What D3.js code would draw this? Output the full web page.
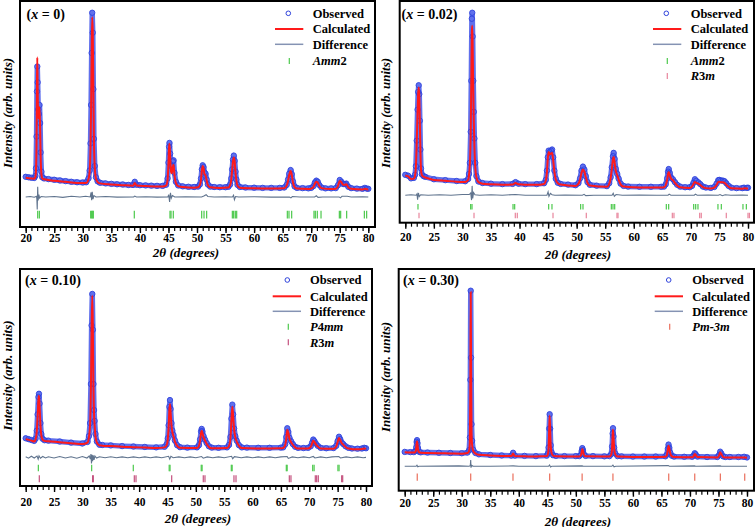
<!DOCTYPE html>
<html><head><meta charset="utf-8">
<script src="https://cdn.jsdelivr.net/npm/d3@7"></script>
<style>
body{margin:0;background:#fff}
svg{display:block}
text{font-family:"Liberation Serif","Times New Roman",serif;font-weight:bold;fill:#000}
</style>
</head><body>
<svg id="c" width="756" height="527"></svg>
<script>
// ---------------- DATA (2θ in degrees, intensity in arb. units) ----------------
const xTicksMajor = [20,25,30,35,40,45,50,55,60,65,70,75,80];
const xTicksMinor = d3.range(20,81,1);

const titles = ["0","0.02","0.10","0.30"];

const obs1 = [[20.0,22.2],[20.5,22.0],[21.0,21.8],[21.5,21.7],[21.7,22.6],[21.8,26],[21.9,40],[21.97,60],[22.03,71],[22.1,64],[22.2,52],[22.3,50],[22.42,54],[22.52,46],[22.62,33],[22.75,24.5],[22.9,22],[23.2,21.5],[24,21.2],[25,20.9],[26,20.6],[27,20.3],[28,20.0],[29,19.8],[30,19.7],[30.6,19.8],[31.0,21.5],[31.2,25],[31.35,37],[31.45,54],[31.55,77],[31.65,94.8],[31.75,86],[31.85,61],[31.95,39],[32.1,27],[32.3,22],[32.6,20.2],[33,19.6],[34,19.3],[35,19.1],[36,18.9],[37,18.8],[38,18.6],[38.8,18.6],[39.1,20.0],[39.4,18.7],[40,18.5],[41,18.4],[42,18.3],[43,18.2],[44,18.2],[44.6,18.7],[44.85,21.5],[45.0,28.5],[45.1,35.5],[45.18,37.2],[45.3,32.5],[45.45,27],[45.6,27],[45.75,29],[45.9,29.5],[46.05,24],[46.3,20],[46.7,18.4],[47.5,18.0],[48.5,17.8],[49.5,17.7],[50.2,17.9],[50.5,18.8],[50.7,21.5],[50.85,25.5],[51.0,27.3],[51.15,26.5],[51.3,24.2],[51.5,23.6],[51.7,21],[51.9,18.8],[52.3,17.9],[53,17.7],[54,17.6],[55,17.6],[55.5,17.8],[55.8,18.8],[56.0,21.5],[56.15,25.5],[56.3,29.8],[56.45,31.6],[56.6,29.3],[56.75,24.5],[56.9,21],[57.1,18.6],[57.5,17.7],[58.5,17.5],[60,17.4],[61.5,17.3],[63,17.3],[64.5,17.3],[65.3,17.5],[65.7,18.6],[65.95,21],[66.15,23.6],[66.4,25.2],[66.6,23.4],[66.8,20.2],[67.1,17.9],[67.5,17.3],[68.5,17.2],[69.5,17.1],[70.0,17.3],[70.4,18.1],[70.65,19.7],[70.9,20.5],[71.15,20],[71.4,18.6],[71.8,17.5],[72.5,17.1],[73.5,17.1],[74.3,17.2],[74.7,18.5],[75.0,20.8],[75.3,20.0],[75.6,19.0],[75.9,19.0],[76.15,19.2],[76.5,17.8],[77,17.2],[78,17.0],[79,16.9],[79.4,17.3],[79.7,17.0],[80,16.9]];
const calc1 = [[20.0,21.8],[21.0,21.5],[21.5,21.4],[21.7,22.2],[21.8,25],[21.9,38],[21.97,62],[22.03,75],[22.1,60],[22.2,48],[22.3,50],[22.42,53],[22.52,44],[22.62,31],[22.75,23.5],[22.9,21.5],[23.2,21.1],[25,20.5],[27,20.0],[29,19.5],[30.6,19.5],[31.0,21.2],[31.2,24.5],[31.35,35],[31.45,52],[31.55,76],[31.65,92.8],[31.75,85],[31.85,61],[31.95,38],[32.1,26],[32.3,21.5],[32.6,19.9],[33,19.3],[35,18.8],[37,18.5],[38.8,18.3],[39.1,19.5],[39.4,18.4],[41,18.1],[43,17.9],[44,17.9],[44.6,18.4],[44.85,21],[45.0,28],[45.1,35],[45.18,36.8],[45.3,31],[45.45,24.5],[45.6,23.8],[45.75,26.5],[45.9,27.5],[46.05,23],[46.3,19.5],[46.7,18.1],[47.5,17.7],[49.5,17.4],[50.2,17.6],[50.5,18.5],[50.7,21],[50.85,25],[51.0,27],[51.15,26],[51.3,23.5],[51.5,22.8],[51.7,20.5],[51.9,18.5],[52.3,17.6],[54,17.3],[55.5,17.5],[55.8,18.5],[56.0,21],[56.15,25],[56.3,29],[56.45,30.7],[56.6,28.8],[56.75,24],[56.9,20.5],[57.1,18.3],[57.5,17.4],[60,17.1],[63,17.0],[65.3,17.2],[65.7,18.3],[65.95,20.5],[66.15,23],[66.4,24.8],[66.6,23],[66.8,19.8],[67.1,17.6],[67.5,17.0],[69.5,16.8],[70.0,17.0],[70.4,17.8],[70.65,19.3],[70.9,20.0],[71.15,19.6],[71.4,18.3],[71.8,17.2],[73.5,16.8],[74.3,16.9],[74.7,18.2],[75.0,20.4],[75.3,19.7],[75.6,18.7],[75.9,18.7],[76.15,18.9],[76.5,17.5],[77,16.9],[79,16.6],[79.4,16.9],[79.7,16.7],[80,16.6]];
const diff1 = [[20,0],[20.8,0.2],[21.5,-0.1],[21.9,0.3],[21.96,-1.2],[22.02,-5.6],[22.1,4.5],[22.18,-1.5],[22.3,1.0],[22.45,-0.5],[22.7,0.2],[23.5,0],[25,0.2],[26.5,-0.2],[28,0.3],[29.5,0],[30.5,0.3],[31.3,0],[31.45,2.0],[31.55,-1.4],[31.65,2.3],[31.78,-1.0],[31.95,0.6],[32.3,0],[34,0.2],[36,-0.1],[38.9,0],[39.1,0.4],[39.4,0],[41,0.1],[43,-0.1],[44.9,0],[45.05,1.0],[45.2,-2.2],[45.35,1.8],[45.5,-0.5],[45.7,0.6],[46.1,0],[48,0.1],[50.8,0],[51.2,0.4],[51.6,1.0],[51.9,0.2],[53,0],[55,0.1],[56.2,0],[56.4,0.8],[56.55,-1.2],[56.75,0.2],[57.3,0],[60,0.1],[63,-0.1],[66.2,0],[66.45,-0.4],[66.7,0.2],[68,0],[70.6,0],[70.9,0.5],[71.2,-0.2],[72,0],[74.9,0],[75.1,-0.4],[75.4,0.3],[76.3,0.3],[77,0],[79,0.1],[80,0]];
const amm2_1 = [22.10,22.39,31.38,31.55,31.73,31.84,39.02,45.27,45.45,45.85,50.82,51.23,51.69,56.19,56.42,56.71,56.95,65.82,66.11,66.58,70.49,70.72,71.07,71.72,74.93,75.16,76.21,79.31,79.71];

const obs2 = [[20.0,21.6],[20.5,21.2],[21.0,20.0],[21.5,20.2],[21.7,21.6],[21.85,25.5],[22.0,37],[22.15,51],[22.25,59],[22.35,62],[22.45,58],[22.55,46],[22.65,33],[22.75,24.5],[22.9,21.8],[23.2,21.0],[23.5,20.7],[25,19.6],[27,19.2],[29,18.8],[30.5,18.7],[31.0,19.7],[31.15,22],[31.3,27],[31.45,41],[31.55,64],[31.65,92],[31.72,94.7],[31.8,84],[31.9,64],[32.0,50],[32.1,38],[32.25,27],[32.45,21],[32.8,18.6],[33.5,17.9],[35,17.6],[37,17.4],[38.8,17.5],[39.3,18.3],[39.8,17.6],[41,17.4],[43,17.4],[44.3,17.8],[44.6,19.3],[44.8,23.5],[44.95,29.5],[45.1,32.5],[45.3,31.8],[45.5,32.5],[45.7,33],[45.9,29.5],[46.1,23.5],[46.35,19.8],[46.7,18],[47.2,17.5],[48.5,17.2],[49.8,16.9],[50.3,17.8],[50.6,20],[50.85,23.5],[51.1,25.3],[51.35,24],[51.6,21],[51.9,18.3],[52.3,17.1],[53.5,16.7],[55.3,16.5],[55.7,17.8],[55.95,20.5],[56.15,25],[56.35,30],[56.48,31.5],[56.65,28.8],[56.85,24.3],[57.1,22],[57.35,19.9],[57.7,17.6],[58.2,16.6],[59,16.3],[61,16.2],[63,16.2],[64.8,16.2],[65.3,16.3],[65.6,17.3],[65.85,20],[66.0,23],[66.12,24.2],[66.3,22.5],[66.55,20.3],[66.85,19.6],[67.2,18.3],[67.6,17.1],[68.1,16.3],[69,16.0],[69.8,16.0],[70.2,16.6],[70.45,18],[70.7,19.6],[70.95,18.9],[71.3,18.2],[71.65,17.4],[72.1,16.3],[72.6,15.9],[73.5,15.7],[74.1,16.1],[74.5,17.6],[74.8,19.2],[75.0,19.3],[75.3,19.0],[75.6,19.0],[75.9,18.7],[76.2,17.8],[76.6,16.6],[77.1,15.8],[78,15.6],[79,15.6],[79.3,15.8],[79.8,15.7],[80,15.8]];
const calc2 = [[20.0,21.3],[20.5,20.9],[21.0,19.7],[21.5,19.9],[21.7,21.2],[21.85,25],[22.0,36],[22.15,50],[22.25,58],[22.35,61],[22.45,57],[22.55,45],[22.65,32],[22.75,24],[22.9,21.5],[23.2,20.7],[23.5,20.4],[25,19.3],[27,18.9],[29,18.5],[30.5,18.4],[31.0,19.3],[31.15,21.5],[31.3,26],[31.45,40],[31.55,62],[31.65,86],[31.72,88.8],[31.8,78],[31.9,60],[32.0,45],[32.1,34],[32.25,25],[32.45,20.5],[32.8,18.3],[33.5,17.6],[35,17.3],[37,17.1],[38.8,17.2],[39.3,17.9],[39.8,17.3],[41,17.1],[43,17.1],[44.3,17.5],[44.6,19],[44.8,23],[44.95,29],[45.1,31.9],[45.3,30.8],[45.5,31.2],[45.7,31.5],[45.9,28],[46.1,23],[46.35,19.5],[46.7,17.8],[47.2,17.2],[49.8,16.6],[50.3,17.5],[50.6,19.5],[50.85,22.5],[51.1,24.0],[51.35,23],[51.6,20.5],[51.9,18],[52.3,16.8],[55.3,16.2],[55.7,17.5],[55.95,20],[56.15,24],[56.35,28.5],[56.48,29.6],[56.65,27],[56.85,23.5],[57.1,21.5],[57.35,19.5],[57.7,17.3],[58.2,16.3],[61,15.9],[64.8,15.9],[65.3,16.0],[65.6,17.0],[65.85,19.5],[66.0,22],[66.12,22.9],[66.3,21.5],[66.55,19.8],[66.85,19.2],[67.2,18],[67.6,16.8],[68.1,16.0],[69.8,15.7],[70.2,16.3],[70.45,17.5],[70.7,18.4],[70.95,18.0],[71.3,17.6],[71.65,17.0],[72.1,16.0],[72.6,15.6],[73.5,15.4],[74.1,15.8],[74.5,17.0],[74.8,18.4],[75.0,18.5],[75.3,18.2],[75.6,18.2],[75.9,18.0],[76.2,17.2],[76.6,16.2],[77.1,15.5],[79,15.3],[79.3,15.5],[79.8,15.4],[80,15.3]];
const diff2 = [[20,0],[21,0.2],[21.9,0],[22.05,0.6],[22.15,-2.0],[22.3,1.0],[22.45,-0.6],[22.7,0.2],[24,0],[26,0.2],[28,0],[30,0.3],[31.2,0.3],[31.45,1.0],[31.6,-2.2],[31.7,4.2],[31.8,-1.5],[31.95,1.2],[32.2,0.2],[33,0],[35,0.2],[37,0],[39.3,0.3],[41,0],[44.8,0],[45.0,1.5],[45.15,-0.5],[45.4,0.8],[45.7,0.2],[46.2,0],[48,0.1],[51,0],[51.3,0.4],[51.6,-0.2],[53,0],[56.2,0],[56.4,0.9],[56.6,-0.5],[56.9,0.3],[58,0],[61,0.1],[64,0],[66.0,0],[66.2,0.5],[66.5,0],[68,0],[70.6,0],[70.8,0.5],[71.1,0],[73,0.1],[74.8,0],[75.1,0.3],[75.5,-0.2],[76,0.2],[77,0],[79,0.1],[80,0]];
const amm2_2 = [22.22,31.44,31.68,38.86,39.15,45.10,45.68,50.70,51.11,56.07,56.36,56.66,65.70,66.11,70.49,70.84,71.24,74.74,75.33,79.12,79.71];
const r3m_2 = [22.40,32.03,39.26,39.61,45.86,51.69,57.06,57.24,66.75,67.04,71.54,71.82,76.20,80.00,80.25];

const obs3 = [[20.0,22.0],[20.5,21.6],[21.0,21.2],[21.5,20.8],[21.75,21.8],[21.95,25.5],[22.1,33],[22.25,41],[22.34,42.5],[22.45,38],[22.6,29],[22.75,24],[22.95,21.8],[23.3,21.1],[24,20.9],[26,20.5],[28,20.0],[30,19.6],[30.9,20.3],[31.15,23],[31.35,29],[31.5,47],[31.62,74],[31.74,88.5],[31.85,72],[31.95,47],[32.05,35],[32.15,30],[32.3,24],[32.55,20.5],[33,19.0],[33.5,18.9],[35,18.7],[37,18.4],[39,18.2],[41,18.0],[43,17.8],[44.5,18.1],[44.85,19.2],[45.05,22],[45.2,28],[45.33,36.5],[45.44,39.6],[45.55,35.5],[45.7,29],[45.85,25.6],[46.05,23.5],[46.3,21],[46.7,18.8],[47.2,17.9],[48.5,17.7],[50.2,17.8],[50.55,18.8],[50.75,21.5],[50.92,25.2],[51.03,26.3],[51.15,25.2],[51.35,23],[51.6,21.4],[51.9,19.8],[52.3,18.3],[52.8,17.7],[54,17.6],[55.5,17.8],[55.85,18.9],[56.1,22.6],[56.27,31],[56.43,37.5],[56.58,33],[56.75,26.5],[56.95,23],[57.2,20.9],[57.6,18.8],[58.1,17.8],[59,17.7],[61,17.6],[63,17.6],[65,17.7],[65.4,17.8],[65.75,19.2],[65.95,22.6],[66.12,26.6],[66.3,25],[66.5,22.2],[66.8,20.6],[67.1,19.3],[67.5,18.1],[68,17.6],[69,17.5],[69.8,17.6],[70.25,18.3],[70.5,20],[70.7,21.4],[70.9,20.7],[71.15,19.6],[71.5,18.5],[72,17.6],[73,17.4],[74.3,17.5],[74.75,18.5],[75.0,20.7],[75.24,22.7],[75.45,21.6],[75.7,20.1],[76.0,19.3],[76.4,18.3],[76.9,17.6],[77.5,17.3],[78.5,17.2],[79.3,17.3],[79.7,17.6],[80,17.4]];
const calc3 = [[20.0,21.6],[21.0,20.9],[21.5,20.5],[21.75,21.5],[21.95,25],[22.1,32],[22.25,40],[22.34,41.6],[22.45,37],[22.6,28],[22.75,23.5],[22.95,21.5],[23.3,20.8],[24,20.6],[26,20.2],[28,19.7],[30,19.3],[30.9,20],[31.15,22.5],[31.35,28],[31.5,45],[31.62,72],[31.74,87.7],[31.85,70],[31.95,45],[32.05,33],[32.15,28],[32.3,23],[32.55,20],[33,18.7],[33.5,18.6],[35,18.4],[37,18.1],[39,17.9],[41,17.7],[43,17.5],[44.5,17.8],[44.85,18.8],[45.05,21.5],[45.2,27],[45.33,35],[45.44,37.8],[45.55,34],[45.7,28],[45.85,25],[46.05,23],[46.3,20.5],[46.7,18.5],[47.2,17.6],[50.2,17.5],[50.55,18.5],[50.75,21],[50.92,24.5],[51.03,25.5],[51.15,24.5],[51.35,22.5],[51.6,21],[51.9,19.5],[52.3,18],[52.8,17.4],[55.5,17.5],[55.85,18.5],[56.1,22],[56.27,30],[56.43,36.5],[56.58,32],[56.75,26],[56.95,22.5],[57.2,20.5],[57.6,18.5],[58.1,17.5],[61,17.3],[65,17.4],[65.4,17.5],[65.75,18.8],[65.95,22],[66.12,25.9],[66.3,24.5],[66.5,21.8],[66.8,20.2],[67.1,19],[67.5,17.8],[68,17.3],[69.8,17.3],[70.25,18],[70.5,19.6],[70.7,20.9],[70.9,20.3],[71.15,19.3],[71.5,18.2],[72,17.3],[74.3,17.2],[74.75,18.2],[75.0,20.3],[75.24,22.1],[75.45,21.2],[75.7,19.8],[76.0,19.0],[76.4,18],[76.9,17.3],[78.5,16.9],[79.3,17.0],[79.7,17.3],[80,17.1]];
const diff3 = [[20,0.3],[20.5,-0.4],[21,0.5],[21.5,-0.3],[22.0,0.6],[22.2,-0.8],[22.35,0.7],[22.6,-0.4],[23,0.4],[23.5,-0.3],[24,0.3],[25,-0.3],[26,0.4],[27,-0.3],[28,0.3],[29,-0.4],[30,0.4],[30.8,-0.3],[31.2,0.6],[31.4,-0.8],[31.5,1.5],[31.6,-2.8],[31.7,1.2],[31.8,-1.8],[31.9,0.9],[32.05,-1.2],[32.2,0.6],[32.5,-0.3],[33,0.3],[34,-0.2],[35,0.3],[36,-0.2],[37,0.2],[38,-0.2],[39,0.2],[40,-0.2],[41,0.2],[42,-0.2],[43,0.2],[44,-0.2],[45.2,0.5],[45.4,-0.8],[45.6,0.5],[46,-0.2],[47,0.2],[48,-0.2],[49,0.2],[50,-0.2],[51,0.4],[51.3,-0.4],[52,0.2],[53,-0.2],[54,0.2],[55,-0.2],[56.3,0.5],[56.5,-0.6],[56.8,0.3],[58,-0.2],[59,0.2],[60,-0.2],[61,0.2],[62,-0.2],[63,0.2],[64,-0.2],[65,0.2],[66.1,0.4],[66.3,-0.5],[67,0.2],[68,-0.2],[69,0.2],[70,-0.2],[70.7,0.4],[71,-0.3],[72,0.2],[73,-0.2],[74,0.2],[75.2,0.4],[75.5,-0.3],[76.5,0.2],[77.5,-0.2],[78.5,0.2],[79.5,-0.2],[80,0]];
const p4mm_3 = [22.23,31.63,38.97,45.30,45.45,50.95,51.10,56.25,56.40,65.95,66.10,70.60,70.85,75.05,75.25];
const r3m_3 = [22.40,31.80,31.92,39.15,39.45,45.74,51.31,51.61,56.72,57.08,66.48,66.77,71.06,71.30,71.59,75.71,75.89];

const obs4 = [[20.0,17.5],[21,17.4],[21.6,17.4],[21.9,17.9],[22.02,19.5],[22.1,22],[22.16,22.8],[22.24,21.5],[22.33,19.2],[22.5,17.6],[22.8,17.3],[24,17.2],[26,17.1],[28,17.0],[30,16.9],[31.0,17.2],[31.3,18.3],[31.42,24],[31.5,50],[31.57,90.2],[31.64,60],[31.72,30],[31.82,22.5],[32.0,18.5],[32.4,17.0],[33,16.4],[35,16.1],[37,15.9],[38.7,15.8],[39.0,17.1],[39.3,15.8],[41,15.7],[43,15.6],[44.9,15.8],[45.1,16.8],[45.22,19.5],[45.32,28],[45.41,34.5],[45.5,28],[45.6,20.5],[45.75,17.3],[46.0,16.0],[46.5,15.7],[48,15.6],[50,15.6],[50.6,15.6],[50.9,16.3],[51.02,17.9],[51.13,19.2],[51.25,18.3],[51.4,16.5],[51.7,15.7],[53,15.6],[55,15.5],[55.9,15.6],[56.2,16.5],[56.35,20],[56.45,25.8],[56.51,28.2],[56.6,24.5],[56.72,19.5],[56.9,16.8],[57.3,15.6],[58,15.5],[60,15.4],[62,15.4],[64,15.4],[65.7,15.5],[65.95,16.3],[66.12,18.9],[66.25,20.8],[66.38,19.4],[66.55,17.1],[66.8,15.8],[67.2,15.4],[69,15.3],[70.4,15.3],[70.65,15.9],[70.84,16.9],[71.0,16.4],[71.3,15.4],[73,15.2],[74.8,15.2],[75.1,16.1],[75.3,17.6],[75.5,16.8],[75.8,15.5],[76.2,15.2],[77,15.2],[78.5,15.2],[79.5,15.3],[80,15.0]];
const calc4 = [[20.0,17.3],[21,17.2],[21.6,17.2],[21.9,17.6],[22.02,19],[22.1,21.5],[22.16,22.3],[22.24,21],[22.33,18.8],[22.5,17.4],[22.8,17.1],[24,17.0],[26,16.9],[28,16.8],[30,16.7],[31.0,17.0],[31.3,18],[31.42,22],[31.5,45],[31.57,89.5],[31.64,55],[31.72,26],[31.82,20.5],[32.0,18],[32.4,16.8],[33,16.2],[35,15.9],[37,15.7],[38.7,15.6],[39.0,16.8],[39.3,15.6],[41,15.5],[43,15.4],[44.9,15.6],[45.1,16.5],[45.22,19],[45.32,27],[45.41,33.8],[45.5,27],[45.6,20],[45.75,17],[46.0,15.8],[46.5,15.5],[50.6,15.4],[50.9,16],[51.02,17.5],[51.13,18.8],[51.25,18],[51.4,16.3],[51.7,15.5],[55.9,15.4],[56.2,16.2],[56.35,19.5],[56.45,25],[56.51,27.5],[56.6,24],[56.72,19],[56.9,16.5],[57.3,15.4],[60,15.2],[64,15.2],[65.7,15.3],[65.95,16],[66.12,18.5],[66.25,20.3],[66.38,19],[66.55,16.8],[66.8,15.6],[67.2,15.2],[70.4,15.1],[70.65,15.6],[70.84,16.6],[71.0,16.1],[71.3,15.2],[74.8,15.0],[75.1,15.8],[75.3,17.3],[75.5,16.5],[75.8,15.3],[76.2,15.0],[79.5,15.0],[80,14.9]];
const diff4 = [[20,0],[22.0,0],[22.15,0.5],[22.3,-0.2],[22.5,0],[26,0.1],[29.5,0.2],[31.3,0],[31.5,0.4],[31.57,2.8],[31.62,-0.6],[31.75,0.4],[32,0],[35,0],[39,0.2],[40,0],[45.2,0],[45.4,0.6],[45.55,-0.3],[45.8,0],[51.1,0.2],[51.3,0],[56.3,0],[56.5,0.5],[56.7,-0.2],[57,0],[66.2,0.3],[66.4,0],[70.8,0.2],[71,0],[75.3,0.2],[75.5,0],[80,0]];
const pm3m_4 = [22.20,31.57,38.98,45.41,51.10,56.50,66.28,70.84,75.33,79.60];

// ---------------- LAYOUT / STYLE ----------------
const C = {obsStroke:"#2f43dc", band:"#4f61ea", calc:"#ff1a1a", diff:"#60748e",
           green:"#4cc94c", pink:"#e8859c", magenta:"#c4517e", salmon:"#ea6f5c", legDiff:"#8593b3"};

const panels = [
 {title:titles[0], f:{l:20,t:1,r:375,b:227}, x20:25.7, x80:368.3, obs:obs1, calc:calc1, diff:diff1, diffOff:13.3,
  titleX:26.5, titleY:18.5, labOff:14.6, xt:{x:186,y:256.8}, yl:{x:11.8,y:113},
  leg:{mx:288.3, lx0:275, lx1:303.3, tx:312.7, rows:[13.3,29,44.3,61]},
  phases:[{name:[["Amm",1],["2",0]], ticks:amm2_1, lo:3.8, hi:7.2, color:C.green}]},
 {title:titles[1], f:{l:399.7,t:1,r:754,b:222.7}, x20:405.3, x80:748, obs:obs2, calc:calc2, diff:diff2, diffOff:12.4,
  titleX:401.5, titleY:18.5, labOff:18.6, xt:{x:578,y:259}, yl:{x:389.8,y:113},
  leg:{mx:666.3, lx0:653, lx1:681.3, tx:690.7, rows:[13.3,29,44.3,61,76]},
  phases:[{name:[["Amm",1],["2",0]], ticks:amm2_2, lo:6.0, hi:8.4, color:C.green},
          {name:[["R",1],["3",0],["m",1]], ticks:r3m_2, lo:2.0, hi:4.5, color:C.pink}]},
 {title:titles[2], f:{l:20,t:269,r:372,b:486}, x20:25.7, x80:366, obs:obs3, calc:calc3, diff:diff3, diffOff:13.2,
  titleX:25, titleY:285, labOff:19.6, xt:{x:198,y:523}, yl:{x:11.8,y:375.5},
  leg:{mx:287.3, lx0:272.7, lx1:301, tx:310, rows:[280,296.3,311.3,326.7,342.3]},
  phases:[{name:[["P",1],["4",0],["mm",1]], ticks:p4mm_3, lo:6.8, hi:9.8, color:C.green},
          {name:[["R",1],["3",0],["m",1]], ticks:r3m_3, lo:1.7, hi:4.9, color:C.magenta}]},
 {title:titles[3], f:{l:398.7,t:269,r:754,b:490.7}, x20:404.7, x80:747, obs:obs4, calc:calc4, diff:diff4, diffOff:11.0,
  titleX:403, titleY:285, labOff:16.6, xt:{x:578,y:525.5}, yl:{x:389.8,y:377},
  leg:{mx:668.7, lx0:654.7, lx1:683, tx:692.3, rows:[280,296.3,311.3,326.7]},
  phases:[{name:[["Pm-3m",1]], ticks:pm3m_4, lo:4.5, hi:7.8, color:C.salmon}]}
];

const svg = d3.select("#c");

panels.forEach((p,i) => {
  const g = svg.append("g");
  const x = d3.scaleLinear().domain([20,80]).range([p.x20, p.x80]);
  const y = d3.scaleLinear().domain([0,100]).range([p.f.b, p.f.t]);

  const clipId = "clip"+i;
  svg.append("clipPath").attr("id",clipId).append("rect")
     .attr("x",p.f.l).attr("y",p.f.t).attr("width",p.f.r-p.f.l).attr("height",p.f.b-p.f.t);
  const dg = g.append("g").attr("clip-path",`url(#${clipId})`);

  const line = d3.line().x(d=>x(d[0])).y(d=>y(d[1]));
  dg.append("path").datum(p.obs).attr("d", line)
    .attr("fill","none").attr("stroke",C.band).attr("stroke-width",5.4)
    .attr("stroke-linejoin","round").attr("stroke-linecap","round").attr("opacity",0.9);
  dg.selectAll("circle.o").data(p.obs).join("circle").attr("class","o")
    .attr("cx",d=>x(d[0])).attr("cy",d=>y(d[1])).attr("r",2.7)
    .attr("fill","none").attr("stroke",C.obsStroke).attr("stroke-width",0.9);
  dg.append("path").datum(p.calc).attr("d", line.curve(d3.curveMonotoneX))
    .attr("fill","none").attr("stroke",C.calc).attr("stroke-width",2);
  const dline = d3.line().x(d=>x(d[0])).y(d=>y(d[1]+p.diffOff)).curve(d3.curveLinear);
  dg.append("path").datum(p.diff).attr("d", dline)
    .attr("fill","none").attr("stroke",C.diff).attr("stroke-width",1.1);
  p.phases.forEach(ph => {
    dg.selectAll(null).data(ph.ticks).join("line")
      .attr("x1",d=>x(d)).attr("x2",d=>x(d)).attr("y1",y(ph.lo)).attr("y2",y(ph.hi))
      .attr("stroke",ph.color).attr("stroke-width",1.2);
  });

  const axMinor = d3.axisBottom(x).tickValues(xTicksMinor).tickSize(4).tickFormat("");
  const axMajor = d3.axisBottom(x).tickValues(xTicksMajor).tickSize(6).tickFormat(d3.format("d"));
  const gm = g.append("g").attr("transform",`translate(0,${p.f.b})`).call(axMinor);
  gm.select(".domain").remove();
  gm.selectAll("line").attr("stroke","#000").attr("stroke-width",1.2);
  const gM = g.append("g").attr("transform",`translate(0,${p.f.b})`).call(axMajor);
  gM.select(".domain").remove();
  gM.selectAll("line").attr("stroke","#000").attr("stroke-width",1.4);
  gM.selectAll("text").attr("y",p.labOff).attr("dy",null)
    .style("font-family",'"Liberation Serif",serif').style("font-weight","bold")
    .style("font-size","11.5px").attr("fill","#000");

  g.append("rect").attr("x",p.f.l).attr("y",p.f.t).attr("width",p.f.r-p.f.l).attr("height",p.f.b-p.f.t)
    .attr("fill","none").attr("stroke","#000").attr("stroke-width",2);

  const t = g.append("text").attr("x",p.titleX).attr("y",p.titleY).style("font-size","14px");
  t.append("tspan").text("(");
  t.append("tspan").style("font-style","italic").text("x");
  t.append("tspan").text(" = "+p.title+")");

  const xt = g.append("text").attr("x",p.xt.x).attr("y",p.xt.y).attr("text-anchor","middle")
    .style("font-size","13.2px").style("font-style","italic");
  xt.append("tspan").text("2θ");
  xt.append("tspan").text(" (degrees)");
  g.append("text").attr("transform",`translate(${p.yl.x},${p.yl.y}) rotate(-90)`)
    .attr("text-anchor","middle").style("font-size","13px").style("font-style","italic")
    .text("Intensity (arb. units)");

  const L = p.leg, fs = 12.5, off = 4.2;
  const lg = g.append("g");
  lg.append("circle").attr("cx",L.mx).attr("cy",L.rows[0]).attr("r",2.3)
    .attr("fill","none").attr("stroke",C.obsStroke).attr("stroke-width",1);
  lg.append("line").attr("x1",L.lx0).attr("x2",L.lx1).attr("y1",L.rows[1]).attr("y2",L.rows[1])
    .attr("stroke",C.calc).attr("stroke-width",2);
  lg.append("line").attr("x1",L.lx0).attr("x2",L.lx1).attr("y1",L.rows[2]).attr("y2",L.rows[2])
    .attr("stroke",C.legDiff).attr("stroke-width",1.5);
  ["Observed","Calculated","Difference"].forEach((s,k)=>{
    lg.append("text").attr("x",L.tx).attr("y",L.rows[k]+off).style("font-size",fs+"px").text(s);
  });
  p.phases.forEach((ph,k)=>{
    const ry = L.rows[3+k];
    lg.append("line").attr("x1",L.mx+1).attr("x2",L.mx+1).attr("y1",ry-3).attr("y2",ry+3)
      .attr("stroke",ph.color).attr("stroke-width",1.2);
    const tt = lg.append("text").attr("x",L.tx).attr("y",ry+off).style("font-size",fs+"px");
    ph.name.forEach(([s,it])=> tt.append("tspan").style("font-style",it?"italic":"normal").text(s));
  });
});
</script>
</body></html>
